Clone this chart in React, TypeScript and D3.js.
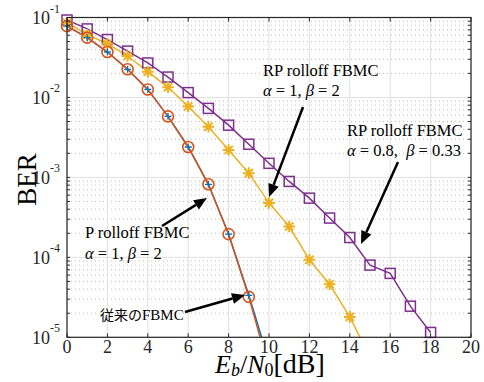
import React from "react";
import * as d3 from "d3";

// Eb/N0 [dB] values and BER per curve
const xRP2 = d3.range(0, 19);
const berRP2 = [0.093, 0.072, 0.053, 0.038, 0.027, 0.018, 0.0115, 0.0073, 0.0045, 0.0026, 0.0015, 0.00089, 0.00055, 0.00031, 0.000177, 8.0e-5, 6.3e-5, 2.45e-5, 1.15e-5];
const xRP1 = d3.range(0, 16);
const berRP1 = [0.086, 0.061, 0.047, 0.033, 0.021, 0.0134, 0.0077, 0.0043, 0.0022, 0.00113, 0.00048, 0.000243, 9.3e-5, 4.6e-5, 1.8e-5, 5.6e-6];
const xConv = d3.range(0, 11);
const berConv = [0.078, 0.056, 0.037, 0.0225, 0.0126, 0.0058, 0.0024, 0.00082, 0.000195, 3.2e-5, 4.0e-6];
const xP = d3.range(0, 11);
const berP = [0.078, 0.056, 0.037, 0.0225, 0.0126, 0.0058, 0.0024, 0.00082, 0.000195, 3.35e-5, 5.0e-6];

const xTicks = d3.range(0, 21, 2);
const yExps = [-1, -2, -3, -4, -5];

const W = 484;
const H = 382;
const left = 67;
const right = 471;
const top = 17.5;
const bottom = 337.3;
const serif = "Liberation Serif";

const purple = "#7E2F8E";
const yellow = "#EDB120";
const orange = "#D95319";
const blue = "#0072BD";

const x = d3.scaleLinear().domain([0, 20]).range([left, right]);
const y = d3.scaleLog().domain([1e-5, 1e-1]).range([bottom, top]);
const inside = (v: number) => v >= 1e-5 * 0.999;

const line = (xs: number[], ys: number[]) =>
  d3.line<number>().x((_, i) => x(xs[i])).y((d) => y(d))(ys) as string;

const minors: number[] = [];
for (let e = -5; e < -1; e++) {
  for (let m = 2; m <= 9; m++) minors.push(m * Math.pow(10, e));
}

function Arrow({ x1, y1, x2, y2 }: { x1: number; y1: number; x2: number; y2: number }) {
  const a = Math.atan2(y2 - y1, x2 - x1);
  const len = 13;
  const wid = 5.5;
  const bx = x2 - len * Math.cos(a);
  const by = y2 - len * Math.sin(a);
  const p1 = [bx + wid * Math.sin(a), by - wid * Math.cos(a)];
  const p2 = [bx - wid * Math.sin(a), by + wid * Math.cos(a)];
  return (
    <g>
      <line x1={x1} y1={y1} x2={bx} y2={by} stroke="#000" strokeWidth={2.5} />
      <polygon points={`${x2},${y2} ${p1[0]},${p1[1]} ${p2[0]},${p2[1]}`} fill="#000" />
    </g>
  );
}

function star(cx: number, cy: number, r: number) {
  let d = "";
  for (let k = 0; k < 4; k++) {
    const a = (k * Math.PI) / 4;
    d += `M${cx - r * Math.cos(a)},${cy - r * Math.sin(a)}L${cx + r * Math.cos(a)},${cy + r * Math.sin(a)}`;
  }
  return d;
}

export default function App() {
  return (
    <svg width={W} height={H} style={{ position: "absolute", left: 0, top: 0, background: "#fff", fontFamily: serif }}>
      <defs>
        <clipPath id="plot">
          <rect x={left} y={top} width={right - left} height={bottom - top} />
        </clipPath>
      </defs>
      <rect x={left} y={top} width={right - left} height={bottom - top} fill="#fff" />

      {/* grid */}
      {minors.map((v, i) => (
        <line key={"mg" + i} x1={left} x2={right} y1={y(v)} y2={y(v)} stroke="#bdbdbd" strokeWidth={1} strokeDasharray="1,3" />
      ))}
      {yExps.map((e) => (
        <line key={"yg" + e} x1={left} x2={right} y1={y(Math.pow(10, e))} y2={y(Math.pow(10, e))} stroke="#e0e0e0" strokeWidth={1} />
      ))}
      {xTicks.map((t) => (
        <line key={"xg" + t} x1={x(t)} x2={x(t)} y1={top} y2={bottom} stroke="#e0e0e0" strokeWidth={1} />
      ))}

      {/* curves */}
      <g clipPath="url(#plot)" fill="none">
        <path d={line(xRP2, berRP2)} stroke={purple} strokeWidth={1.5} />
        <path d={line(xRP1, berRP1)} stroke={yellow} strokeWidth={1.5} />
        <path d={line(xP, berP)} stroke={blue} strokeWidth={1.5} />
        <path d={line(xConv, berConv)} stroke={orange} strokeWidth={1.5} />
      </g>
      <g fill="none">
        {xRP2.map((t, i) =>
          inside(berRP2[i]) ? (
            <rect key={"s" + t} x={x(t) - 5} y={y(berRP2[i]) - 5} width={10} height={10} stroke={purple} strokeWidth={1.5} />
          ) : null
        )}
        {xRP1.map((t, i) =>
          inside(berRP1[i]) ? (
            <path key={"st" + t} d={star(x(t), y(berRP1[i]), 5.8)} stroke={yellow} strokeWidth={2} />
          ) : null
        )}
        {xConv.map((t, i) =>
          inside(berConv[i]) ? (
            <circle key={"c" + t} cx={x(t)} cy={y(berConv[i])} r={5.5} stroke={orange} strokeWidth={1.6} />
          ) : null
        )}
        {xP.map((t, i) =>
          inside(berP[i]) ? (
            <path key={"p" + t} d={`M${x(t) - 3.5},${y(berP[i])}h7M${x(t)},${y(berP[i]) - 3.5}v7`} stroke={blue} strokeWidth={1.3} />
          ) : null
        )}
      </g>

      {/* frame & ticks */}
      <rect x={left} y={top} width={right - left} height={bottom - top} fill="none" stroke="#262626" strokeWidth={1.2} />
      {xTicks.map((t) => (
        <g key={"xt" + t} stroke="#262626">
          <line x1={x(t)} x2={x(t)} y1={bottom} y2={bottom - 4} />
          <line x1={x(t)} x2={x(t)} y1={top} y2={top + 4} />
        </g>
      ))}
      {minors.concat(yExps.map((e) => Math.pow(10, e))).map((v, i) => (
        <g key={"yt" + i} stroke="#262626">
          <line x1={left} x2={left + 3} y1={y(v)} y2={y(v)} />
          <line x1={right} x2={right - 3} y1={y(v)} y2={y(v)} />
        </g>
      ))}
      {xTicks.map((t) => (
        <text key={"xl" + t} x={x(t)} y={353} fontSize={18} fontFamily={serif} textAnchor="middle" fill="#262626">
          {t}
        </text>
      ))}
      {yExps.map((e) => (
        <g key={"yl" + e} fill="#262626" fontFamily={serif}>
          <text x={50} y={y(Math.pow(10, e)) + 6.5} fontSize={18} textAnchor="end">10</text>
          <text x={50} y={y(Math.pow(10, e)) - 5} fontSize={12}>{e}</text>
        </g>
      ))}

      {/* axis labels */}
      <text transform={`translate(36,${(top + bottom) / 2 + 2}) rotate(-90)`} fontSize={27} fontFamily={serif} textAnchor="middle" fill="#000">
        BER
      </text>
      <text x={215} y={373} fontSize={26} fontFamily={serif} fill="#000">
        <tspan fontStyle="italic">E</tspan>
        <tspan fontStyle="italic" fontSize={18} dy={3}>b</tspan>
        <tspan dy={-3}>/</tspan>
        <tspan fontStyle="italic">N</tspan>
        <tspan fontSize={18} dy={3}>0</tspan>
        <tspan dy={-3} fontSize={28}>[dB]</tspan>
      </text>

      {/* annotations */}
      <g fontSize={16.5} fill="#000" fontFamily={serif}>
        <text x={263} y={76}>RP rolloff FBMC</text>
        <text x={263} y={96}>
          <tspan fontStyle="italic">α</tspan> = 1, <tspan fontStyle="italic">β</tspan> = 2
        </text>
        <text x={347} y={136}>RP rolloff FBMC</text>
        <text x={347} y={156}>
          <tspan fontStyle="italic">α</tspan> = 0.8,{"\u00a0\u00a0"}<tspan fontStyle="italic">β</tspan> = 0.33
        </text>
        <text x={85} y={238}>P rolloff FBMC</text>
        <text x={85} y={259}>
          <tspan fontStyle="italic">α</tspan> = 1, <tspan fontStyle="italic">β</tspan> = 2
        </text>
        <text x={100} y={320} fontSize={15}>
          <tspan fontFamily="Noto Sans CJK JP" fontSize={14}>従来の</tspan>FBMC
        </text>
      </g>
      <Arrow x1={303} y1={107} x2={269} y2={197} />
      <Arrow x1={398} y1={162} x2={361} y2={244} />
      <Arrow x1={162} y1={226} x2={207} y2={198} />
      <Arrow x1={185} y1={312} x2={245} y2={295} />
    </svg>
  );
}
